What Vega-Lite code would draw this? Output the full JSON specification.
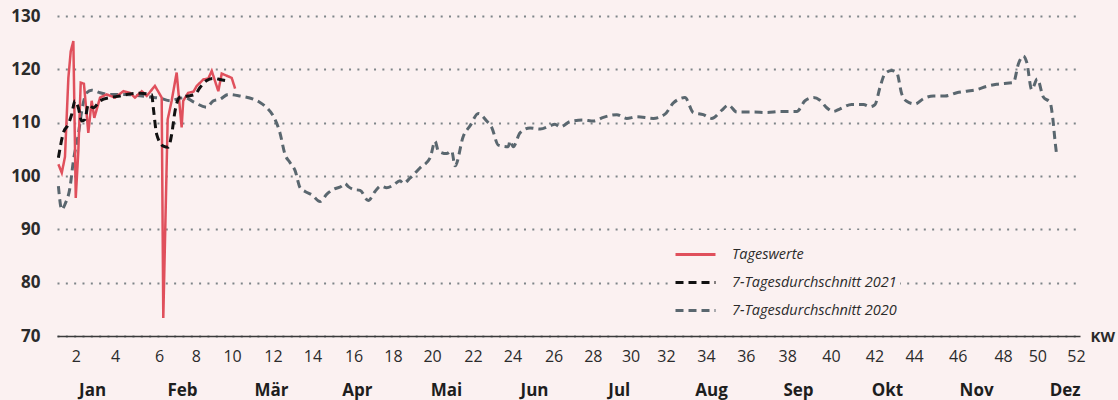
{
  "$schema": "https://vega.github.io/schema/vega-lite/v6.json",
  "width": 1023,
  "height": 320,
  "autosize": {"type": "none"},
  "padding": {"left": 57, "top": 16, "right": 38, "bottom": 64},
  "background": "#fbf1f1",
  "config": {
    "view": {"stroke": null},
    "font": "Open Sans",
    "axis": {"labelFont": "Open Sans", "titleFont": "Open Sans"}
  },
  "datasets": {
    "d2020": [
      {"kw": 1.07, "v": 98.1}, {"kw": 1.24, "v": 93.7}, {"kw": 1.40, "v": 94.7}, {"kw": 1.65, "v": 97.8},
      {"kw": 1.82, "v": 102.8}, {"kw": 2.07, "v": 107.8}, {"kw": 2.24, "v": 112.2}, {"kw": 2.49, "v": 115.6},
      {"kw": 2.74, "v": 116.1}, {"kw": 3.16, "v": 115.6}, {"kw": 3.66, "v": 115.3}, {"kw": 4.33, "v": 115.3},
      {"kw": 5.00, "v": 115.1}, {"kw": 5.66, "v": 114.8}, {"kw": 6.17, "v": 114.6}, {"kw": 6.67, "v": 114.1},
      {"kw": 7.00, "v": 114.4}, {"kw": 7.42, "v": 114.7}, {"kw": 7.84, "v": 113.9}, {"kw": 8.51, "v": 112.9},
      {"kw": 8.84, "v": 114.1}, {"kw": 9.17, "v": 114.4}, {"kw": 9.59, "v": 115.3}, {"kw": 10.18, "v": 115.0},
      {"kw": 10.84, "v": 114.4}, {"kw": 11.18, "v": 113.8}, {"kw": 11.52, "v": 112.8}, {"kw": 11.85, "v": 111.2},
      {"kw": 12.18, "v": 108.1}, {"kw": 12.43, "v": 104.1}, {"kw": 12.69, "v": 102.5}, {"kw": 12.94, "v": 101.0},
      {"kw": 13.19, "v": 97.8}, {"kw": 13.44, "v": 97.1}, {"kw": 13.77, "v": 96.5}, {"kw": 14.19, "v": 95.2},
      {"kw": 14.53, "v": 96.6}, {"kw": 14.86, "v": 97.5}, {"kw": 15.28, "v": 98.1}, {"kw": 15.44, "v": 98.6},
      {"kw": 15.61, "v": 98.0}, {"kw": 15.86, "v": 97.5}, {"kw": 16.20, "v": 97.3}, {"kw": 16.61, "v": 95.4},
      {"kw": 16.95, "v": 97.1}, {"kw": 17.23, "v": 98.1}, {"kw": 17.53, "v": 97.8}, {"kw": 17.87, "v": 98.3},
      {"kw": 18.20, "v": 99.1}, {"kw": 18.37, "v": 98.6}, {"kw": 18.70, "v": 99.6}, {"kw": 19.20, "v": 101.5},
      {"kw": 19.71, "v": 103.4}, {"kw": 19.96, "v": 106.5}, {"kw": 20.12, "v": 104.7}, {"kw": 20.54, "v": 104.2},
      {"kw": 20.79, "v": 104.7}, {"kw": 20.96, "v": 101.9}, {"kw": 21.38, "v": 107.5}, {"kw": 21.71, "v": 109.4},
      {"kw": 22.13, "v": 111.7}, {"kw": 22.55, "v": 110.3}, {"kw": 22.80, "v": 109.1}, {"kw": 23.13, "v": 105.8},
      {"kw": 23.63, "v": 105.5}, {"kw": 23.72, "v": 106.6}, {"kw": 23.88, "v": 105.5}, {"kw": 24.22, "v": 108.1},
      {"kw": 24.72, "v": 109.0}, {"kw": 25.23, "v": 108.8}, {"kw": 25.72, "v": 109.4}, {"kw": 25.97, "v": 109.7},
      {"kw": 26.23, "v": 109.2}, {"kw": 26.73, "v": 110.2}, {"kw": 27.39, "v": 110.5}, {"kw": 27.90, "v": 110.3},
      {"kw": 28.40, "v": 111.0}, {"kw": 29.07, "v": 111.5}, {"kw": 29.57, "v": 110.8}, {"kw": 30.07, "v": 111.1},
      {"kw": 30.90, "v": 110.8}, {"kw": 31.49, "v": 111.6}, {"kw": 31.91, "v": 113.7}, {"kw": 32.49, "v": 114.7},
      {"kw": 32.91, "v": 111.9}, {"kw": 33.41, "v": 111.5}, {"kw": 33.83, "v": 110.8}, {"kw": 34.33, "v": 112.3},
      {"kw": 34.67, "v": 113.3}, {"kw": 35.09, "v": 112.0}, {"kw": 35.92, "v": 112.0}, {"kw": 36.59, "v": 111.9},
      {"kw": 37.26, "v": 112.1}, {"kw": 38.10, "v": 112.1}, {"kw": 38.51, "v": 114.1}, {"kw": 38.93, "v": 114.7},
      {"kw": 39.26, "v": 114.2}, {"kw": 39.60, "v": 112.8}, {"kw": 39.93, "v": 112.1}, {"kw": 40.27, "v": 112.6},
      {"kw": 40.85, "v": 113.4}, {"kw": 41.44, "v": 113.4}, {"kw": 41.77, "v": 113.0}, {"kw": 42.02, "v": 113.4},
      {"kw": 42.27, "v": 116.6}, {"kw": 42.52, "v": 119.2}, {"kw": 42.86, "v": 119.8}, {"kw": 43.11, "v": 119.4},
      {"kw": 43.36, "v": 115.4}, {"kw": 43.61, "v": 114.0}, {"kw": 44.03, "v": 113.5}, {"kw": 44.45, "v": 114.5},
      {"kw": 44.95, "v": 115.0}, {"kw": 45.53, "v": 115.0}, {"kw": 46.12, "v": 115.6}, {"kw": 46.62, "v": 115.9},
      {"kw": 47.12, "v": 116.2}, {"kw": 47.62, "v": 116.8}, {"kw": 48.12, "v": 117.2}, {"kw": 48.63, "v": 117.4},
      {"kw": 48.96, "v": 117.5}, {"kw": 49.21, "v": 121.0}, {"kw": 49.46, "v": 122.5}, {"kw": 49.63, "v": 121.3},
      {"kw": 49.88, "v": 116.2}, {"kw": 50.16, "v": 118.2}, {"kw": 50.46, "v": 114.8}, {"kw": 50.80, "v": 113.8},
      {"kw": 50.93, "v": 111.0}, {"kw": 51.05, "v": 106.5}, {"kw": 51.14, "v": 103.6}
    ],
    "d2021": [
      {"kw": 1.07, "v": 103.4}, {"kw": 1.32, "v": 108.1}, {"kw": 1.57, "v": 109.7}, {"kw": 1.74, "v": 111.6},
      {"kw": 1.90, "v": 114.1}, {"kw": 2.07, "v": 112.8}, {"kw": 2.24, "v": 110.3}, {"kw": 2.40, "v": 110.6},
      {"kw": 2.57, "v": 113.4}, {"kw": 2.82, "v": 112.8}, {"kw": 3.16, "v": 114.1}, {"kw": 3.66, "v": 114.7},
      {"kw": 4.16, "v": 115.0}, {"kw": 4.66, "v": 115.4}, {"kw": 5.16, "v": 115.5}, {"kw": 5.75, "v": 115.3},
      {"kw": 5.83, "v": 112.8}, {"kw": 6.00, "v": 107.8}, {"kw": 6.33, "v": 105.6}, {"kw": 6.58, "v": 105.4},
      {"kw": 6.75, "v": 107.8}, {"kw": 6.92, "v": 112.2}, {"kw": 7.17, "v": 114.8}, {"kw": 7.58, "v": 115.0},
      {"kw": 7.92, "v": 115.3}, {"kw": 8.17, "v": 116.6}, {"kw": 8.51, "v": 117.9}, {"kw": 8.84, "v": 118.3},
      {"kw": 9.17, "v": 118.1}, {"kw": 9.59, "v": 117.8}
    ],
    "daily": [
      {"kw": 1.07, "v": 102.2}, {"kw": 1.24, "v": 100.6}, {"kw": 1.40, "v": 103.6}, {"kw": 1.57, "v": 118.4},
      {"kw": 1.69, "v": 123.4}, {"kw": 1.82, "v": 125.3}, {"kw": 1.94, "v": 95.9}, {"kw": 2.07, "v": 104.7},
      {"kw": 2.19, "v": 117.5}, {"kw": 2.35, "v": 117.3}, {"kw": 2.57, "v": 108.1}, {"kw": 2.74, "v": 114.1},
      {"kw": 2.87, "v": 110.9}, {"kw": 3.16, "v": 114.7}, {"kw": 3.49, "v": 115.3}, {"kw": 3.91, "v": 114.7},
      {"kw": 4.33, "v": 115.9}, {"kw": 4.66, "v": 115.6}, {"kw": 4.91, "v": 114.7}, {"kw": 5.25, "v": 115.9},
      {"kw": 5.50, "v": 115.0}, {"kw": 5.91, "v": 116.9}, {"kw": 6.25, "v": 114.7}, {"kw": 6.33, "v": 73.4},
      {"kw": 6.55, "v": 110.6}, {"kw": 6.75, "v": 114.1}, {"kw": 7.00, "v": 119.4}, {"kw": 7.25, "v": 109.1},
      {"kw": 7.33, "v": 114.1}, {"kw": 7.58, "v": 115.6}, {"kw": 7.84, "v": 115.8}, {"kw": 8.01, "v": 116.9},
      {"kw": 8.34, "v": 118.1}, {"kw": 8.59, "v": 118.3}, {"kw": 8.76, "v": 119.7}, {"kw": 9.09, "v": 115.9},
      {"kw": 9.26, "v": 119.2}, {"kw": 9.51, "v": 118.8}, {"kw": 9.76, "v": 118.4}, {"kw": 9.93, "v": 116.4}
    ]
  },
  "encoding": {
    "y": {
      "field": "v", "type": "quantitative",
      "scale": {"domain": [70, 130], "nice": false, "zero": false},
      "axis": {
        "title": null, "values": [70, 80, 90, 100, 110, 120, 130],
        "domain": false, "ticks": false, "tickSize": 0,
        "labelFontSize": 17, "labelFontWeight": "bold", "labelColor": "#2b2b2b", "labelPadding": 17,
        "grid": true, "gridColor": "#7e8589", "gridDash": [2, 6.33], "gridWidth": 2, "gridCap": "butt"
      }
    }
  },
  "layer": [
    {
      "data": {"name": "d2020"},
      "transform": [{"calculate": "'7-Tagesdurchschnitt 2020'", "as": "s"}],
      "mark": {"type": "line", "interpolate": "monotone", "strokeWidth": 3},
      "encoding": {
        "x": {
          "field": "kw", "type": "quantitative",
          "scale": {"domain": [1, 52.3], "nice": false, "zero": false},
          "axis": {
            "orient": "bottom", "title": "KW",
            "titleX": 1033, "titleY": 0, "titleAlign": "left", "titleBaseline": "middle", "titleAnchor": null,
            "titleFontSize": 15, "titleFontWeight": "bold", "titleColor": "#2b2b2b",
            "values": [1.94, 3.91, 6.12, 7.96, 9.78, 11.83, 13.81, 15.87, 17.85, 19.81, 21.86, 23.84, 25.90, 27.87, 29.76, 31.54, 33.54, 35.54, 37.62, 39.81, 41.99, 43.98, 46.17, 48.44, 50.16, 52.10],
            "labelExpr": "round(datum.value / 2) * 2",
            "labelOverlap": false, "labelFlush": false,
            "grid": false, "ticks": false, "tickSize": 0,
            "domain": true, "domainColor": "#3a3a3a", "domainWidth": 1.5,
            "labelFontSize": 16, "labelColor": "#2b2b2b", "labelPadding": 12
          }
        },
        "color": {
          "field": "s", "type": "nominal",
          "scale": {"domain": ["Tageswerte", "7-Tagesdurchschnitt 2021", "7-Tagesdurchschnitt 2020"], "range": ["#e0505c", "#111111", "#5a676f"]},
          "legend": {
            "title": null, "orient": "none", "legendX": 614, "legendY": 214,
            "symbolType": "stroke", "symbolSize": 1600, "symbolStrokeWidth": 3,
            "labelFont": "Open Sans", "labelFontStyle": "italic", "labelFontSize": 14.5, "labelColor": "#2b2b2b",
            "labelLimit": 400, "labelOffset": 15, "rowPadding": -9, "padding": 3, "fillColor": "#fbf1f1"
          }
        },
        "strokeDash": {
          "field": "s", "type": "nominal",
          "scale": {"domain": ["Tageswerte", "7-Tagesdurchschnitt 2021", "7-Tagesdurchschnitt 2020"], "range": [[1, 0], [8, 5], [8, 5]]},
          "legend": null
        }
      }
    },
    {
      "data": {"name": "daily"},
      "transform": [{"calculate": "'Tageswerte'", "as": "s"}],
      "mark": {"type": "line", "strokeWidth": 2.5},
      "encoding": {
        "x": {"field": "kw", "type": "quantitative", "axis": null},
        "color": {"field": "s", "type": "nominal"},
        "strokeDash": {"field": "s", "type": "nominal"}
      }
    },
    {
      "data": {"name": "d2021"},
      "transform": [{"calculate": "'7-Tagesdurchschnitt 2021'", "as": "s"}],
      "mark": {"type": "line", "interpolate": "monotone", "strokeWidth": 3},
      "encoding": {
        "x": {
          "field": "kw", "type": "quantitative",
          "axis": {
            "orient": "bottom", "title": null,
            "values": [2.76, 7.27, 11.73, 16.04, 20.51, 24.92, 29.17, 33.80, 38.16, 42.62, 47.09, 51.53],
            "labelExpr": "datum.value < 5 ? 'Jan' : datum.value < 9 ? 'Feb' : datum.value < 14 ? 'Mär' : datum.value < 18 ? 'Apr' : datum.value < 22 ? 'Mai' : datum.value < 27 ? 'Jun' : datum.value < 31 ? 'Jul' : datum.value < 36 ? 'Aug' : datum.value < 40 ? 'Sep' : datum.value < 45 ? 'Okt' : datum.value < 49 ? 'Nov' : 'Dez'",
            "labelOverlap": false, "labelFlush": false,
            "grid": false, "ticks": false, "tickSize": 0, "domain": false,
            "labelFontSize": 17, "labelFontWeight": "bold", "labelColor": "#1e1e1e", "labelPadding": 46
          }
        },
        "color": {"field": "s", "type": "nominal"},
        "strokeDash": {"field": "s", "type": "nominal"}
      }
    }
  ],
  "resolve": {"axis": {"x": "independent"}}
}
